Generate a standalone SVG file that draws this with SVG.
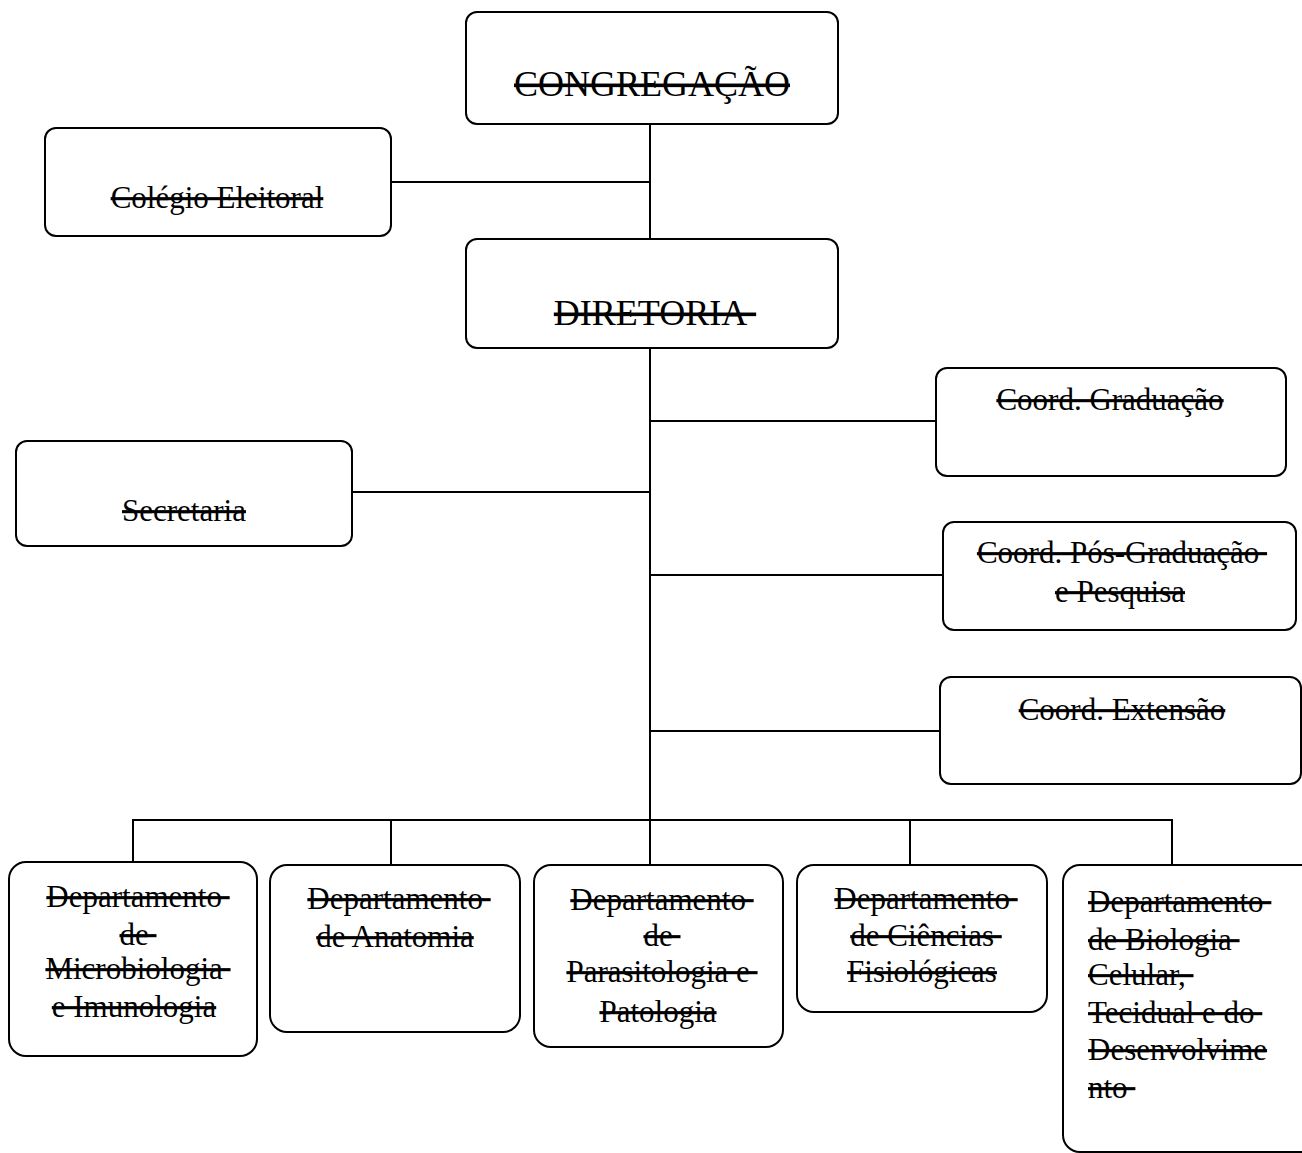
<svg xmlns="http://www.w3.org/2000/svg" width="1302" height="1153" viewBox="0 0 1302 1153" xml:space="preserve">
<style>
.box{fill:#fff;stroke:#000;stroke-width:2}
.conn line{stroke:#000;stroke-width:2}
text{font-family:"Liberation Serif","Times New Roman",serif;font-size:31px;fill:#000;text-decoration:line-through}
.c{text-anchor:middle}
.big{font-size:36px}
</style>
<rect width="1302" height="1153" fill="#fff"/>
<g id="connectors" class="conn">
<line x1="650" y1="124" x2="650" y2="239"/>
<line x1="391" y1="182" x2="650" y2="182"/>
<line x1="650" y1="348" x2="650" y2="865"/>
<line x1="650" y1="421" x2="935" y2="421"/>
<line x1="352" y1="492" x2="650" y2="492"/>
<line x1="650" y1="575" x2="943" y2="575"/>
<line x1="650" y1="731" x2="940" y2="731"/>
<line x1="133" y1="820" x2="1172" y2="820"/>
<line x1="133" y1="819" x2="133" y2="862"/>
<line x1="391" y1="819" x2="391" y2="865"/>
<line x1="910" y1="819" x2="910" y2="865"/>
<line x1="1172" y1="819" x2="1172" y2="865"/>
</g>
<g id="congregacao"><rect class="box" x="466" y="12" width="372" height="112" rx="11"/><text class="c big" x="652" y="96">CONGREGAÇÃO</text></g>
<g id="colegio"><rect class="box" x="45" y="128" width="346" height="108" rx="11"/><text class="c" x="217" y="208">Colégio Eleitoral</text></g>
<g id="diretoria"><rect class="box" x="466" y="239" width="372" height="109" rx="11"/><text class="c big" x="655" y="325">DIRETORIA&#160;</text></g>
<g id="coord-graduacao"><rect class="box" x="936" y="368" width="350" height="108" rx="11"/><text class="c" x="1110" y="410">Coord. Graduação</text></g>
<g id="secretaria"><rect class="box" x="16" y="441" width="336" height="105" rx="11"/><text class="c" x="184" y="521">Secretaria</text></g>
<g id="coord-pos"><rect class="box" x="943" y="522" width="353" height="108" rx="11"/><text class="c" x="1122" y="563">Coord. Pós-Graduação&#160;</text><text class="c" x="1120" y="602">e Pesquisa</text></g>
<g id="coord-extensao"><rect class="box" x="940" y="677" width="361" height="107" rx="11"/><text class="c" x="1122" y="720">Coord. Extensão</text></g>
<g id="dep-microbiologia"><rect class="box" x="9" y="862" width="248" height="194" rx="17"/><text class="c" x="138" y="907">Departamento&#160;</text><text class="c" x="138" y="945">de&#160;</text><text class="c" x="138" y="979">Microbiologia&#160;</text><text class="c" x="134" y="1017">e Imunologia</text></g>
<g id="dep-anatomia"><rect class="box" x="270" y="865" width="250" height="167" rx="17"/><text class="c" x="399" y="909">Departamento&#160;</text><text class="c" x="395" y="947">de Anatomia</text></g>
<g id="dep-parasitologia"><rect class="box" x="534" y="865" width="249" height="182" rx="17"/><text class="c" x="662" y="910">Departamento&#160;</text><text class="c" x="662" y="946">de&#160;</text><text class="c" x="662" y="982">Parasitologia e&#160;</text><text class="c" x="658" y="1022">Patologia</text></g>
<g id="dep-ciencias"><rect class="box" x="797" y="865" width="250" height="147" rx="17"/><text class="c" x="926" y="909">Departamento&#160;</text><text class="c" x="926" y="946">de Ciências&#160;</text><text class="c" x="922" y="982">Fisiológicas</text></g>
<g id="dep-biologia"><rect class="box" x="1063" y="865" width="262" height="287" rx="17"/><text x="1088" y="912">Departamento&#160;</text><text x="1088" y="950">de Biologia&#160;</text><text x="1088" y="985">Celular,&#160;</text><text x="1088" y="1023">Tecidual e do&#160;</text><text x="1088" y="1060">Desenvolvime</text><text x="1088" y="1098">nto&#160;</text></g>
</svg>
